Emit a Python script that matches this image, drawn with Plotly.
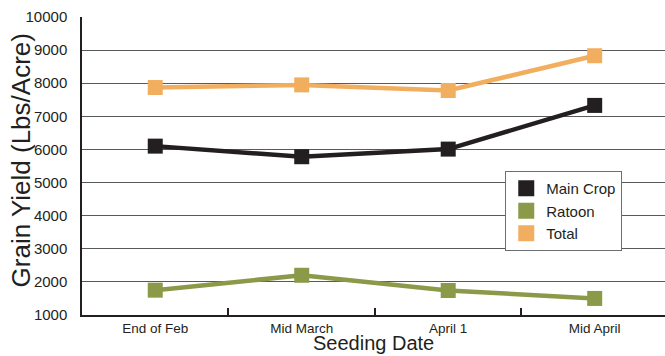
import plotly.graph_objects as go

# Seeding dates and grain yield (lbs/acre)
seeding_dates = ["End of Feb", "Mid March", "April 1", "Mid April"]
main_crop = [6100, 5780, 6010, 7330]
ratoon = [1750, 2200, 1740, 1500]
total = [7870, 7950, 7780, 8830]

y_ticks = [1000, 2000, 3000, 4000, 5000, 6000, 7000, 8000, 9000, 10000]
y_tick_labels = [str(v) for v in y_ticks]

series = [
    ("Main Crop", main_crop, "#231f20"),
    ("Ratoon", ratoon, "#8a9a48"),
    ("Total", total, "#f2ae5f"),
]

fig = go.Figure()

# Lines with square markers
for name, values, color in reversed(series):
    fig.add_trace(go.Scatter(
        x=seeding_dates, y=values, mode="lines+markers", name=name,
        line=dict(color=color, width=4.5),
        marker=dict(symbol="square", size=15, color=color),
        showlegend=False, cliponaxis=False,
    ))

# Legend entries: plain squares
for name, values, color in series:
    fig.add_trace(go.Scatter(
        x=[None], y=[None], mode="markers", name=name,
        marker=dict(symbol="square", size=16, color=color),
    ))

fig.update_layout(
    width=665, height=356,
    margin=dict(l=82, r=0, t=17, b=41),
    paper_bgcolor="white", plot_bgcolor="white",
    font=dict(family="Liberation Sans, Arial, sans-serif", color="#231f20"),
    showlegend=True,
    legend=dict(
        x=0.726, y=0.483, xanchor="left", yanchor="top",
        bgcolor="white", bordercolor="#6d6e70", borderwidth=1,
        font=dict(size=15, color="#231f20"),
        tracegroupgap=0, itemwidth=30,
    ),
    annotations=[
        dict(text="Grain Yield (Lbs/Acre)", textangle=-90,
             xref="paper", yref="paper", x=-0.104, y=0.52,
             xanchor="center", yanchor="middle", showarrow=False,
             font=dict(size=26, color="#231f20")),
        dict(text="Seeding Date",
             xref="paper", yref="paper", x=0.5, y=-0.137,
             xanchor="center", yanchor="bottom", showarrow=False,
             font=dict(size=20, color="#231f20")),
    ],
)

fig.update_xaxes(
    type="category", range=[-0.5, 3.48],
    showline=True, linecolor="#231f20", linewidth=2,
    ticks="inside", tickson="boundaries", ticklen=7, tickwidth=2,
    tickcolor="#231f20", showgrid=False,
    tickfont=dict(size=13.5, color="#231f20"),
    ticklabelstandoff=0,
)

fig.update_yaxes(
    range=[1000, 10000], tickvals=y_ticks, ticktext=y_tick_labels,
    showline=True, linecolor="#231f20", linewidth=1.5,
    showgrid=True, gridcolor="#58595b", gridwidth=1.3,
    zeroline=False, ticks="",
    tickfont=dict(size=15, color="#231f20"),
    ticklabelstandoff=10,
)

fig.write_html("out.html")
